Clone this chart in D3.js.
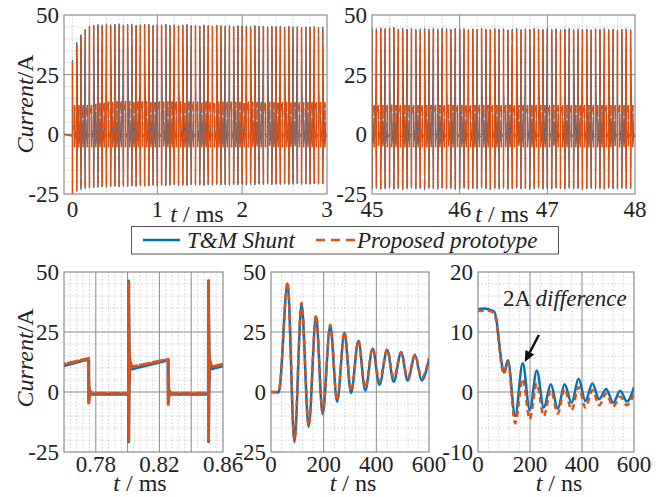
<!DOCTYPE html>
<html>
<head>
<meta charset="utf-8">
<script src="https://cdn.jsdelivr.net/npm/d3@7"></script>
<style>
  body { margin: 0; background: #fff; }
</style>
</head>
<body>
<div id="chart"></div>
<script>
// Current waveforms: T&M shunt vs proposed prototype (5 panels)

const blue = "#0072BD";
const orange = "#D95319";
const serif = "Liberation Serif";

// ---- switching period (20 kHz)
const period = 0.05;   // ms
const onTime = 0.0249; // ms, rising edge -> falling edge

// ---- rising edge, ns (middle bottom panel)
const riseNs    = [0, 28, 32, 63, 89, 116, 143, 171, 196, 225, 251, 279, 304, 332, 358, 386, 412, 441, 466, 494, 519, 547, 572, 600];
const riseProto = [0, 0.2, 1.5, 45.8, -20.1, 37.2, -13.9, 31.9, -8.6, 28.0, -3.5, 25.0, 0.3, 21.5, 1.7, 18.3, 4.4, 17.8, 5.8, 16.7, 5.8, 15.6, 5.8, 14.2];
const riseShunt = [0, -0.2, 1.0, 45.2, -20.9, 36.8, -14.5, 31.6, -9.2, 27.7, -4.1, 24.7, -0.4, 21.2, 0.6, 18.0, 3.0, 17.5, 4.3, 16.4, 4.8, 15.3, 4.8, 13.6];

// ---- falling edge, ns (right bottom panel)
const fallNs    = [0, 20, 45, 62, 70, 80, 90, 100, 115, 143, 172, 199, 226, 253, 280, 307, 333, 360, 387, 413, 440, 466, 493, 520, 547, 573, 600];
const fallProto = [13.5, 13.6, 13.5, 13.1, 11.8, 8.2, 4.6, 3.0, 5.0, -5.2, 2.2, -4.5, 1.4, -4.0, 0.3, -3.6, 0.5, -3.0, 0.8, -2.6, 0.3, -2.2, -0.3, -2.4, -0.8, -2.2, -0.3];
const fallShunt = [13.8, 13.9, 13.7, 13.4, 12.3, 8.8, 5.1, 3.2, 5.3, -4.0, 4.8, -3.0, 3.6, -2.6, 1.3, -2.8, 1.3, -1.8, 2.2, -1.5, 1.4, -1.2, 0.5, -1.8, 0.2, -1.6, 0.8];

// ---- start-up, 0..3 ms : one value per switching period (orange trace)
const startPeaks = [30.4, 38.1, 41.3, 43.6, 44.8, 45.3, 45.6, 45.4, 45.8, 45.5,
  45.7, 45.9, 45.4, 45.6, 45.8, 45.3, 45.5, 45.7, 45.6, 45.2,
  45.5, 45.4, 45.7, 45.3, 45.5, 45.1, 45.4, 45.6, 45.2, 45.3,
  45.0, 45.4, 45.2, 44.9, 45.3, 45.1, 45.0, 45.2, 44.8, 45.1,
  44.9, 45.0, 44.7, 45.1, 44.8, 44.9, 44.6, 44.9, 44.7, 44.8,
  44.5, 44.8, 44.6, 44.7, 44.4, 44.6, 44.5, 44.7, 44.4, 44.5];
const startTroughs = [-26.0, -23.4, -22.6, -22.2, -22.0, -21.8, -21.7, -21.5, -21.6, -21.4,
  -21.3, -21.5, -21.2, -21.4, -21.1, -21.3, -21.0, -21.2, -21.1, -20.9,
  -21.1, -20.8, -21.0, -20.9, -20.7, -21.0, -20.8, -20.9, -20.6, -20.8,
  -20.7, -20.9, -20.6, -20.8, -20.5, -20.7, -20.6, -20.8, -20.5, -20.6,
  -20.4, -20.7, -20.5, -20.6, -20.4, -20.5, -20.3, -20.6, -20.4, -20.5,
  -20.3, -20.5, -20.4, -20.2, -20.5, -20.3, -20.4, -20.2, -20.4, -20.3];
const startPlateauLo = [2.0, 5.0, 7.0, 8.2, 9.0, 9.6, 10.0, 10.2, 10.3, 10.4,
  10.4, 10.5, 10.4, 10.5, 10.4, 10.5, 10.4, 10.4, 10.5, 10.4,
  10.4, 10.3, 10.4, 10.4, 10.3, 10.4, 10.3, 10.4, 10.3, 10.3,
  10.3, 10.4, 10.3, 10.2, 10.3, 10.3, 10.2, 10.3, 10.2, 10.2,
  10.2, 10.3, 10.2, 10.2, 10.1, 10.2, 10.2, 10.1, 10.2, 10.1,
  10.1, 10.2, 10.1, 10.1, 10.0, 10.1, 10.1, 10.0, 10.1, 10.0];
const startPlateauHi = [4.5, 7.5, 9.6, 11.0, 12.0, 12.6, 13.0, 13.3, 13.5, 13.6,
  13.7, 13.6, 13.7, 13.7, 13.6, 13.7, 13.6, 13.6, 13.7, 13.6,
  13.6, 13.5, 13.6, 13.6, 13.5, 13.6, 13.5, 13.6, 13.5, 13.5,
  13.5, 13.6, 13.5, 13.4, 13.5, 13.5, 13.4, 13.5, 13.4, 13.4,
  13.4, 13.5, 13.4, 13.4, 13.3, 13.4, 13.4, 13.3, 13.4, 13.3,
  13.3, 13.4, 13.3, 13.3, 13.2, 13.3, 13.3, 13.2, 13.3, 13.2];

// ---- steady state, 45..48 ms : one value per switching period (orange trace)
const steadyPeaks = [44.0, 43.8, 44.2, 43.9, 44.1, 44.3, 43.7, 44.0, 43.6, 43.9,
  43.5, 43.8, 44.0, 43.6, 43.9, 43.7, 44.1, 43.8, 43.6, 44.0,
  43.7, 43.9, 43.5, 43.8, 43.6, 44.0, 43.7, 43.5, 43.9, 43.6,
  43.8, 43.4, 43.7, 43.9, 43.5, 43.8, 43.6, 44.0, 43.7, 43.5,
  43.9, 43.6, 43.8, 43.4, 43.7, 43.9, 43.5, 43.8, 43.6, 43.7,
  43.4, 43.8, 43.6, 43.9, 43.5, 43.7, 43.3, 43.6, 43.8, 43.5];
const steadyTroughs = [-22.4, -22.1, -22.6, -22.3, -22.0, -22.5, -22.2, -22.7, -22.3, -22.0,
  -22.4, -22.2, -22.6, -22.1, -22.3, -22.5, -22.0, -22.4, -22.2, -22.6,
  -22.3, -22.1, -22.5, -22.2, -22.4, -22.0, -22.3, -22.6, -22.2, -22.4,
  -22.1, -22.5, -22.3, -22.0, -22.4, -22.2, -22.6, -22.3, -22.1, -22.5,
  -22.2, -22.4, -22.0, -22.3, -22.5, -22.1, -22.4, -22.2, -22.6, -22.3,
  -22.1, -22.4, -22.2, -22.5, -22.0, -22.3, -22.4, -22.1, -22.3, -22.2];
const steadyPlateauLo = [9.5, 9.6, 9.4, 9.5, 9.7, 9.5, 9.4, 9.6, 9.5, 9.3,
  9.5, 9.6, 9.4, 9.5, 9.6, 9.4, 9.5, 9.7, 9.5, 9.4,
  9.6, 9.5, 9.3, 9.5, 9.6, 9.4, 9.5, 9.6, 9.5, 9.4,
  9.5, 9.7, 9.4, 9.5, 9.6, 9.5, 9.4, 9.6, 9.5, 9.3,
  9.5, 9.6, 9.4, 9.5, 9.6, 9.4, 9.5, 9.6, 9.5, 9.4,
  9.6, 9.5, 9.4, 9.5, 9.6, 9.4, 9.5, 9.6, 9.5, 9.4];
const steadyPlateauHi = [12.0, 12.1, 11.9, 12.0, 12.2, 12.0, 11.9, 12.1, 12.0, 11.8,
  12.0, 12.1, 11.9, 12.0, 12.1, 11.9, 12.0, 12.2, 12.0, 11.9,
  12.1, 12.0, 11.8, 12.0, 12.1, 11.9, 12.0, 12.1, 12.0, 11.9,
  12.0, 12.2, 11.9, 12.0, 12.1, 12.0, 11.9, 12.1, 12.0, 11.8,
  12.0, 12.1, 11.9, 12.0, 12.1, 11.9, 12.0, 12.1, 12.0, 11.9,
  12.1, 12.0, 11.9, 12.0, 12.1, 11.9, 12.0, 12.1, 12.0, 11.9];

// ---- zoom 0.76..0.86 ms : three periods
const zoomStarts = [0.7506, 0.8006, 0.8508];
const zoomPeaks = [45.8, 45.8, 45.9];
const zoomTroughs = [-20.0, -20.1, -20.0];
const zoomPlateauLo = [10.4, 10.4, 10.5];
const zoomPlateauHi = [14.0, 13.6, 13.8];

// shunt (blue) vs prototype (orange) differences
const offProto = -0.5, offShunt = -0.9;
const shuntPeakExtra = 0.5, shuntTroughExtra = -0.6, shuntLoShift = -0.8, shuntHiShift = -0.3;

// annotation in the right panel (ns, A)
const noteText = [96, 14.4];
const arrowTip = [180, 5.0];
const arrowTail = [234, 9.5];

// ---------------------------------------------------------------
const riseT0 = 30, riseNsPeak = 63, riseNsTrough = 89, fallDelay = 62;

function buildCycles(starts, peaks, troughs, lo, hi, off, riseV, fallV, sh) {
  const pts = [];
  starts.forEach((t0, k) => {
    const pk = peaks[k] + sh.peak, tr = troughs[k] + sh.trough;
    pts.push([t0, off]);
    riseNs.forEach((ns, i) => {
      if (ns < riseT0) return;
      let v = riseV[i];
      if (ns === riseNsPeak) v = pk;
      else if (ns === riseNsTrough) v = tr;
      else v = Math.max(tr, Math.min(pk, v));
      pts.push([t0 + ns * 1e-6, v]);
    });
    pts.push([t0 + 0.002, lo[k] + sh.lo]);
    const tf = t0 + onTime;
    pts.push([tf, hi[k] + sh.hi]);
    fallNs.forEach((ns, i) => {
      if (ns <= fallDelay) return;
      pts.push([tf + (ns - fallDelay) * 1e-6, fallV[i]]);
    });
    pts.push([tf + 0.002, off]);
    pts.push([t0 + period, off]);
  });
  return pts;
}

const noShift = { peak: 0, trough: 0, lo: 0, hi: 0 };
const shuntShift = { peak: shuntPeakExtra, trough: shuntTroughExtra, lo: shuntLoShift, hi: shuntHiShift };

const startTimes = d3.range(startPeaks.length).map(k => k * period);
const steadyTimes = d3.range(steadyPeaks.length).map(k => 45 + k * period);

const startProto = [[-0.1, 0]].concat(buildCycles(startTimes, startPeaks, startTroughs, startPlateauLo, startPlateauHi, offProto, riseProto, fallProto, noShift));
const startShunt = [[-0.1, 0]].concat(buildCycles(startTimes, startPeaks, startTroughs, startPlateauLo, startPlateauHi, offShunt, riseShunt, fallShunt, shuntShift));
const steadyProto = buildCycles(steadyTimes, steadyPeaks, steadyTroughs, steadyPlateauLo, steadyPlateauHi, offProto, riseProto, fallProto, noShift);
const steadyShunt = buildCycles(steadyTimes, steadyPeaks, steadyTroughs, steadyPlateauLo, steadyPlateauHi, offShunt, riseShunt, fallShunt, shuntShift);
const zoomProto = buildCycles(zoomStarts, zoomPeaks, zoomTroughs, zoomPlateauLo, zoomPlateauHi, offProto, riseProto, fallProto, noShift);
const zoomShunt = buildCycles(zoomStarts, zoomPeaks, zoomTroughs, zoomPlateauLo, zoomPlateauHi, offShunt, riseShunt, fallShunt, shuntShift);

const pairs = (xs, ys) => xs.map((t, i) => [t, ys[i]]);

const panels = [
  { box: [64, 15, 327, 194], xDomain: [-0.1, 3], yDomain: [-25, 50], xTicks: [0, 1, 2, 3], xGrid: [1, 2], xMinor: 0.2,
    yTicks: [-25, 0, 25, 50], yGrid: [0, 25], yMinor: 5, unit: "ms", labelX: 197, tickDy: 23, labelDy: 28, yLabelAt: 104,
    curve: d3.curveLinear, width: 1.6, bWidth: 0.9, dash: "10,2", data: [startShunt, startProto] },
  { box: [372, 15, 635, 194], xDomain: [45, 48], yDomain: [-25, 50], xTicks: [45, 46, 47, 48], xGrid: [46, 47], xMinor: 0.2,
    yTicks: [-25, 0, 25, 50], yGrid: [0, 25], yMinor: 5, unit: "ms", labelX: 502, tickDy: 23, labelDy: 28,
    curve: d3.curveLinear, width: 1.6, bWidth: 0.9, dash: "10,2", data: [steadyShunt, steadyProto] },
  { box: [64, 272, 223, 452], xDomain: [0.76, 0.86], yDomain: [-25, 50], xTicks: [0.78, 0.82, 0.86], xGrid: [0.78, 0.8, 0.82, 0.84], xMinor: 0.004,
    yTicks: [-25, 0, 25, 50], yGrid: [0, 25], yMinor: 5, unit: "ms", labelX: 140, tickDy: 20, labelDy: 39, yLabelAt: 358,
    curve: d3.curveLinear, width: 3, bWidth: 3, dash: "12,1", data: [zoomShunt, zoomProto] },
  { box: [271, 272, 429, 452], xDomain: [0, 600], yDomain: [-25, 50], xTicks: [0, 200, 400, 600], xGrid: [200, 400], xMinor: 40,
    yTicks: [-25, 0, 25, 50], yGrid: [0, 25], yMinor: 5, unit: "ns", labelX: 353, tickDy: 20, labelDy: 39,
    curve: d3.curveMonotoneX, width: 2.5, bWidth: 2.5, dash: "6,4", data: [pairs(riseNs, riseShunt), pairs(riseNs, riseProto)] },
  { box: [478, 272, 634, 452], xDomain: [0, 600], yDomain: [-10, 20], xTicks: [0, 200, 400, 600], xGrid: [200, 400], xMinor: 40,
    yTicks: [-10, 0, 10, 20], yGrid: [0, 10], yMinor: 2, unit: "ns", labelX: 559, tickDy: 20, labelDy: 39,
    curve: d3.curveMonotoneX, width: 2.5, bWidth: 2.5, dash: "6,4", data: [pairs(fallNs, fallShunt), pairs(fallNs, fallProto)], note: true }
];

const svg = d3.select("#chart").append("svg")
  .attr("width", 663).attr("height", 497);

const defs = svg.append("defs");

function multiples(d0, d1, step) {
  const out = [];
  for (let v = Math.ceil(d0 / step - 1e-6) * step; v < d1 - 1e-9; v += step) out.push(+v.toFixed(6));
  return out;
}

function label(sel) {
  return sel.attr("font-family", serif).attr("fill", "#222");
}

panels.forEach((p, pi) => {
  const [x0, y0, x1, y1] = p.box;
  const x = d3.scaleLinear().domain(p.xDomain).range([x0, x1]);
  const y = d3.scaleLinear().domain(p.yDomain).range([y1, y0]);
  const g = svg.append("g");

  // minor grid (dotted)
  const near = (v, arr, s) => arr.some(a => Math.abs(a - v) < s * 0.1);
  g.selectAll(".mx").data(multiples(p.xDomain[0], p.xDomain[1], p.xMinor).filter(v => !near(v, p.xGrid, p.xMinor) && v > p.xDomain[0]))
    .join("line")
    .attr("x1", d => x(d)).attr("x2", d => x(d)).attr("y1", y0).attr("y2", y1)
    .attr("stroke", "#c4c4c4").attr("stroke-width", 0.8).attr("stroke-dasharray", "1.5,2");
  g.selectAll(".my").data(multiples(p.yDomain[0], p.yDomain[1], p.yMinor).filter(v => !near(v, p.yGrid, p.yMinor) && v > p.yDomain[0]))
    .join("line")
    .attr("y1", d => y(d)).attr("y2", d => y(d)).attr("x1", x0).attr("x2", x1)
    .attr("stroke", "#c4c4c4").attr("stroke-width", 0.8).attr("stroke-dasharray", "1.5,2");

  // major grid
  g.selectAll(".gx").data(p.xGrid).join("line")
    .attr("x1", d => x(d)).attr("x2", d => x(d)).attr("y1", y0).attr("y2", y1)
    .attr("stroke", "#8a8a8a").attr("stroke-width", 1);
  g.selectAll(".gy").data(p.yGrid).join("line")
    .attr("y1", d => y(d)).attr("y2", d => y(d)).attr("x1", x0).attr("x2", x1)
    .attr("stroke", "#8a8a8a").attr("stroke-width", 1);

  // traces
  defs.append("clipPath").attr("id", "clip" + pi)
    .append("rect").attr("x", x0).attr("y", y0).attr("width", x1 - x0).attr("height", y1 - y0);
  const line = d3.line().x(d => x(d[0])).y(d => y(d[1])).curve(p.curve);
  const traces = g.append("g").attr("clip-path", `url(#clip${pi})`);
  traces.append("path").attr("d", line(p.data[0]))
    .attr("fill", "none").attr("stroke", blue).attr("stroke-width", p.bWidth).attr("stroke-linejoin", "round");
  traces.append("path").attr("d", line(p.data[1]))
    .attr("fill", "none").attr("stroke", orange).attr("stroke-width", p.width)
    .attr("stroke-dasharray", p.dash).attr("stroke-linejoin", "round");

  // frame
  g.append("rect").attr("x", x0).attr("y", y0).attr("width", x1 - x0).attr("height", y1 - y0)
    .attr("fill", "none").attr("stroke", "#777").attr("stroke-width", 1);

  // tick labels
  g.selectAll(".tx").data(p.xTicks).join("text")
    .call(label)
    .attr("x", d => x(d)).attr("y", y1 + p.tickDy)
    .attr("text-anchor", "middle").attr("font-size", 23)
    .text(d => d);
  g.selectAll(".ty").data(p.yTicks).join("text")
    .call(label)
    .attr("x", x0 - 5).attr("y", d => y(d)).attr("dy", "0.35em")
    .attr("text-anchor", "end").attr("font-size", 23)
    .text(d => d);

  // x label  "t / ms"
  const xl = g.append("text").call(label).attr("x", p.labelX).attr("y", y1 + p.labelDy)
    .attr("text-anchor", "middle").attr("font-size", 24);
  xl.append("tspan").attr("font-style", "italic").text("t");
  xl.append("tspan").text(" / " + p.unit);

  // y label  "Current/A"
  if (p.yLabelAt) {
    const yl = g.append("text").call(label).attr("transform", `translate(33,${p.yLabelAt}) rotate(-90)`)
      .attr("text-anchor", "middle").attr("font-size", 24);
    yl.append("tspan").attr("font-style", "italic").text("Current");
    yl.append("tspan").text("/A");
  }

  // annotation
  if (p.note) {
    const t = g.append("text").call(label).attr("x", x(noteText[0])).attr("y", y(noteText[1])).attr("font-size", 23);
    t.append("tspan").text("2A ");
    t.append("tspan").attr("font-style", "italic").text("difference");
    const ax = x(arrowTail[0]), ay = y(arrowTail[1]), bx = x(arrowTip[0]), by = y(arrowTip[1]);
    const ang = Math.atan2(by - ay, bx - ax), L = 11, Wd = 5;
    const hx = bx - L * Math.cos(ang), hy = by - L * Math.sin(ang);
    g.append("line").attr("x1", ax).attr("y1", ay).attr("x2", hx).attr("y2", hy)
      .attr("stroke", "#111").attr("stroke-width", 2.5);
    g.append("path")
      .attr("d", `M${bx},${by}L${hx + Wd * Math.sin(ang)},${hy - Wd * Math.cos(ang)}L${hx - Wd * Math.sin(ang)},${hy + Wd * Math.cos(ang)}Z`)
      .attr("fill", "#111");
  }
});

// legend
const lg = svg.append("g");
lg.append("rect").attr("x", 131.5).attr("y", 226.5).attr("width", 427).attr("height", 27.5)
  .attr("fill", "#fff").attr("stroke", "#555").attr("stroke-width", 1);
lg.append("line").attr("x1", 143).attr("x2", 180).attr("y1", 240).attr("y2", 240)
  .attr("stroke", blue).attr("stroke-width", 2.5);
lg.append("text").call(label).attr("x", 187).attr("y", 248).attr("font-size", 23).attr("font-style", "italic").text("T&M Shunt");
lg.append("line").attr("x1", 316).attr("x2", 355).attr("y1", 240).attr("y2", 240)
  .attr("stroke", orange).attr("stroke-width", 2.5).attr("stroke-dasharray", "9,6");
lg.append("text").call(label).attr("x", 357).attr("y", 248).attr("font-size", 23).attr("font-style", "italic").text("Proposed prototype");
</script>
</body>
</html>
